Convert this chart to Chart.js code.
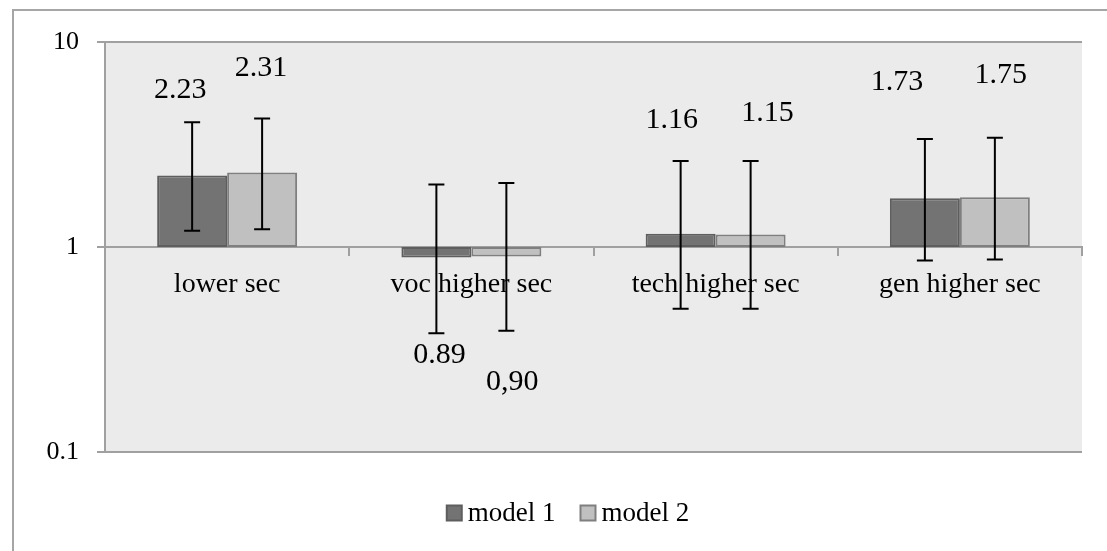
<!DOCTYPE html>
<html>
<head>
<meta charset="utf-8">
<script src="https://cdn.jsdelivr.net/npm/chart.js@4.4.1/dist/chart.umd.min.js"></script>
<style>
    html, body { margin: 0; padding: 0; background: #ffffff; }
    #wrap { position: relative; width: 1107px; height: 551px; overflow: hidden; }
    #frame {
        position: absolute; left: 12px; top: 9px; width: 1200px; height: 700px;
        border: 2px solid #a6a6a6; box-sizing: border-box;
    }
    #chart { position: absolute; left: 0; top: 0; }
</style>
</head>
<body>
<div id="wrap">
    <div id="frame"></div>
    <canvas id="chart" width="1107" height="551"></canvas>
</div>
<script>
// Categories and values (odds ratios, log axis)
const categories = ['lower sec', 'voc higher sec', 'tech higher sec', 'gen higher sec'];
const seriesNames = ['model 1', 'model 2'];
const model1 = [2.23, 0.89, 1.16, 1.73];
const model2 = [2.31, 0.90, 1.15, 1.75];

// Confidence intervals (error bars)
const model1Low = [1.20, 0.38, 0.50, 0.86];
const model1High = [4.06, 2.02, 2.63, 3.36];
const model2Low = [1.22, 0.39, 0.50, 0.87];
const model2High = [4.24, 2.05, 2.63, 3.41];

// Value labels as printed on the chart
const model1Labels = ['2.23', '0.89', '1.16', '1.73'];
const model2Labels = ['2.31', '0,90', '1.15', '1.75'];

// Y axis ticks
const yTicks = [0.1, 1, 10];

// Label placement (pixel offset from the error bar end), hand placed in the original
const labelOffsets = [
    [[-12, -32], [3, 22], [-9, -41], [-28, -57]],
    [[-1, -50], [6, 51], [17, -48], [6, -63]]
];

const FONT = '"Liberation Serif", "DejaVu Serif", serif';
const colors = ['#737373', '#c0c0c0'];
const borders = ['#5e5e5e', '#7f7f7f'];

const errLow = [model1Low, model2Low];
const errHigh = [model1High, model2High];
const valueLabels = [model1Labels, model2Labels];

// Grey plot area
const plotBackground = {
    id: 'plotBackground',
    beforeDraw(chart) {
        const { ctx, chartArea } = chart;
        ctx.save();
        ctx.fillStyle = '#ebebeb';
        ctx.fillRect(chartArea.left, chartArea.top, chartArea.right - chartArea.left, chartArea.bottom - chartArea.top);
        ctx.restore();
    }
};

// Error bars + value labels
const errorBars = {
    id: 'errorBars',
    afterDatasetsDraw(chart) {
        const { ctx } = chart;
        const yScale = chart.scales.y;
        ctx.save();
        chart.data.datasets.forEach((ds, i) => {
            const meta = chart.getDatasetMeta(i);
            meta.data.forEach((bar, j) => {
                const yHi = yScale.getPixelForValue(errHigh[i][j]);
                const yLo = yScale.getPixelForValue(errLow[i][j]);
                ctx.strokeStyle = '#000000';
                ctx.lineWidth = 2;
                ctx.beginPath();
                ctx.moveTo(bar.x, yHi);
                ctx.lineTo(bar.x, yLo);
                ctx.moveTo(bar.x - 8, yHi);
                ctx.lineTo(bar.x + 8, yHi);
                ctx.moveTo(bar.x - 8, yLo);
                ctx.lineTo(bar.x + 8, yLo);
                ctx.stroke();

                // label near the end of the error bar on the bar's side
                const above = ds.data[j][1] >= 1;
                const anchor = above ? yHi : yLo;
                const off = labelOffsets[i][j];
                ctx.fillStyle = '#000000';
                ctx.font = '30px ' + FONT;
                ctx.textAlign = 'center';
                ctx.textBaseline = 'middle';
                ctx.fillText(valueLabels[i][j], bar.x + off[0], anchor + off[1]);
            });
        });
        ctx.restore();
    }
};

// Legend under the plot
const bottomLegend = {
    id: 'bottomLegend',
    afterDraw(chart) {
        const { ctx } = chart;
        ctx.save();
        ctx.font = '27px ' + FONT;
        const box = 15, gap = 6, itemGap = 25;
        const widths = chart.data.datasets.map(ds => box + gap + ctx.measureText(ds.label).width);
        const total = widths.reduce((a, b) => a + b, 0) + itemGap * (widths.length - 1);
        let x = 568 - total / 2;
        const cy = 513;
        chart.data.datasets.forEach((ds, i) => {
            ctx.fillStyle = ds.backgroundColor;
            ctx.strokeStyle = ds.borderColor;
            ctx.lineWidth = 2;
            ctx.fillRect(x, cy - box / 2, box, box);
            ctx.strokeRect(x, cy - box / 2, box, box);
            ctx.fillStyle = '#000000';
            ctx.textAlign = 'left';
            ctx.textBaseline = 'middle';
            ctx.fillText(ds.label, x + box + gap, cy + 1);
            x += widths[i] + itemGap;
        });
        ctx.restore();
    }
};

const ctx = document.getElementById('chart').getContext('2d');
new Chart(ctx, {
    type: 'bar',
    data: {
        labels: categories,
        datasets: [model1, model2].map((vals, i) => ({
            label: seriesNames[i],
            data: vals.map(v => [1, v]),
            backgroundColor: colors[i],
            borderColor: borders[i],
            borderWidth: 2,
            borderSkipped: false,
            barPercentage: 1,
            categoryPercentage: 0.573
        }))
    },
    options: {
        responsive: false,
        animation: false,
        events: [],
        layout: {
            padding: { left: 12, right: 25, top: 42, bottom: 99 }
        },
        plugins: {
            legend: { display: false },
            tooltip: { enabled: false }
        },
        scales: {
            x: {
                position: { y: 1 },
                grid: {
                    drawOnChartArea: false,
                    drawTicks: true,
                    tickLength: 8,
                    offset: true,
                    color: '#a0a0a0',
                    lineWidth: 2
                },
                border: { display: true, color: '#a0a0a0', width: 2 },
                ticks: {
                    font: { family: FONT, size: 28 },
                    color: '#000000',
                    padding: 13,
                    maxRotation: 0
                }
            },
            y: {
                type: 'logarithmic',
                min: 0.1,
                max: 10,
                afterBuildTicks(scale) {
                    scale.ticks = yTicks.map(v => ({ value: v }));
                },
                afterFit(scale) {
                    scale.width = 93;
                },
                grid: {
                    color: '#a0a0a0',
                    lineWidth: 2,
                    drawTicks: true,
                    tickLength: 8
                },
                border: { display: true, color: '#a0a0a0', width: 2 },
                ticks: {
                    font: { family: FONT, size: 26 },
                    color: '#000000',
                    padding: 18,
                    callback: v => String(v)
                }
            }
        }
    },
    plugins: [plotBackground, errorBars, bottomLegend]
});
</script>
</body>
</html>
